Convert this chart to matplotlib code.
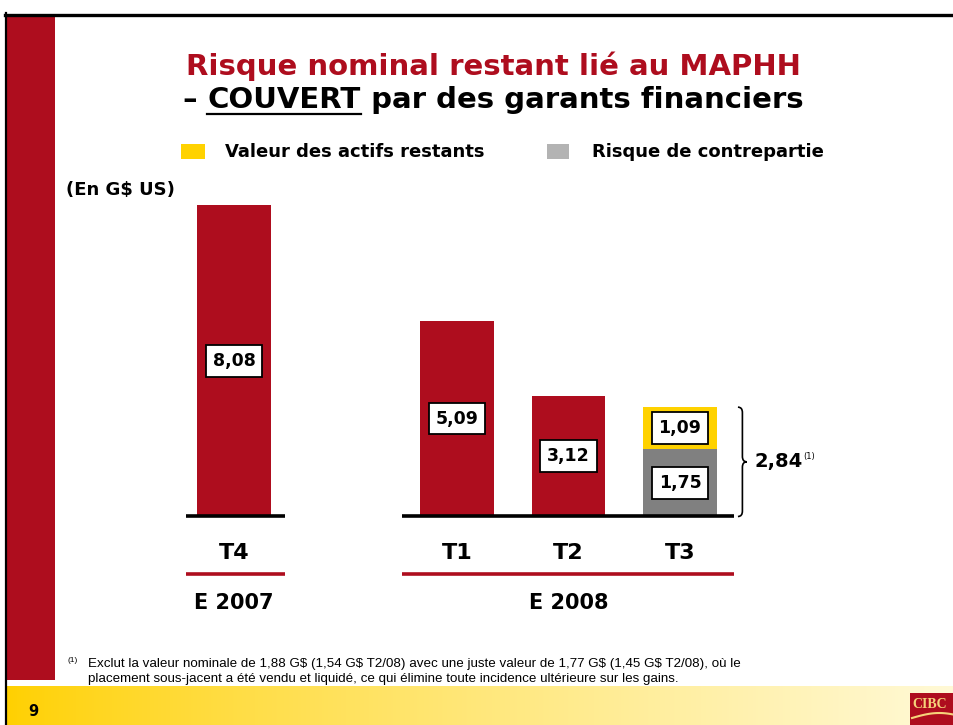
import numpy as np
import matplotlib
matplotlib.use('Agg')
from matplotlib import pyplot as plt
from matplotlib.patches import Rectangle, PathPatch
from matplotlib.path import Path
from matplotlib.lines import Line2D

# data (G$ US)
periods = ['T4', 'T1', 'T2', 'T3']
period_x = [0, 2, 3, 4]
years = ['E 2007', 'E 2008']
year_groups = [[0], [2, 3, 4]]
red_vals = [8.08, 5.09, 3.12]          # T4, T1, T2
t3_counterparty = 1.75                 # gris
t3_assets = 1.09                       # jaune
t3_total = 2.84
legend_labels = ['Valeur des actifs restants', 'Risque de contrepartie']

RED = '#AE0D1E'
YELLOW = '#FFD200'
GRAY = '#808080'
LGRAY = '#B3B3B3'


def fr(v):
    return ('%.2f' % v).replace('.', ',')


fig = plt.figure(figsize=(9.54, 7.25), dpi=100)

# background / slide decorations in pixel coords
bg = fig.add_axes([0, 0, 1, 1])
bg.axis('off')
c0 = np.array([255, 208, 0]) / 255.0
c1 = np.array([255, 249, 214]) / 255.0
t = np.linspace(0, 1, 400) ** 0.8
grad = c0[None, :] * (1 - t[:, None]) + c1[None, :] * t[:, None]
bg.imshow(grad[None, :, :], extent=(7, 954, 725, 686), aspect='auto')
bg.set_xlim(0, 954)
bg.set_ylim(725, 0)
bg.add_patch(Rectangle((7, 16), 48, 664, color=RED, lw=0))
bg.add_line(Line2D([5, 954], [14.5, 14.5], color='black', lw=2.4))
bg.add_line(Line2D([6, 6], [13, 725], color='black', lw=1.6))

# logo
bg.add_patch(Rectangle((910, 693), 44, 32, color=RED, lw=0))
bg.text(912, 704, 'CIBC', color='#F6D37A', fontsize=10, family='Liberation Serif',
        va='center', ha='left', fontweight='bold')
sw = np.linspace(912, 954, 30)
bg.plot(sw, 718 - 5 * np.sin((sw - 912) / 42 * np.pi / 1.3), color='#F6D37A', lw=1.5)

# title
TS = 21
bg.text(493, 66, 'Risque nominal restant lié au MAPHH', color=RED, fontsize=TS,
        fontweight='bold', ha='center', va='center')
pieces = ['–\u00a0', 'COUVERT', '\u00a0par des garants financiers']
renderer = fig.canvas.get_renderer()
tx = []
for p in pieces:
    tx.append(bg.text(0, 100, p, fontsize=TS, fontweight='bold', color='black',
                      ha='left', va='center'))
widths = [ti.get_window_extent(renderer).width for ti in tx]
total = sum(widths)
x = 493 - total / 2
for ti, w in zip(tx, widths):
    ti.set_x(x)
    x += w
und_x0 = 493 - total / 2 + widths[0]
bg.add_line(Line2D([und_x0, und_x0 + widths[1]], [114, 114], color='black', lw=1.6))

# legend
bg.add_patch(Rectangle((181, 144), 24, 15, color=YELLOW, lw=0))
bg.text(225, 152, legend_labels[0], fontsize=13, fontweight='bold', va='center')
bg.add_patch(Rectangle((547, 144), 22, 15, color=LGRAY, lw=0))
bg.text(592, 152, legend_labels[1], fontsize=13, fontweight='bold', va='center')
bg.text(66, 190, r'(En G\$ US)', fontsize=13, fontweight='bold', va='center')

# footnote
foot_font = ['Liberation Sans', 'DejaVu Sans']
bg.text(68, 661, '(1)', fontsize=6, family=foot_font, va='center')
bg.text(88, 664, r'Exclut la valeur nominale de 1,88 G\$ (1,54 G\$ T2/08) avec une juste valeur '
        r'de 1,77 G\$ (1,45 G\$ T2/08), où le', fontsize=9.6, family=foot_font, va='center')
bg.text(88, 679, 'placement sous-jacent a été vendu et liquidé, ce qui élimine toute incidence '
        'ultérieure sur les gains.', fontsize=9.6, family=foot_font, va='center')
bg.text(28, 712, '9', fontsize=10.5, fontweight='bold', va='center')

# chart
ax = fig.add_axes([150 / 954, 85 / 725, 700 / 954, 460 / 725])
ax.patch.set_alpha(0)
ax.set_xlim(-0.753, 5.525)
ax.set_ylim(-3.208, 8.74)
ax.axis('off')

W = 0.66
ax.bar(period_x[:3], red_vals, width=W, color=RED, lw=0)
ax.bar(period_x[3], t3_counterparty, width=W, color=GRAY, lw=0)
ax.bar(period_x[3], t3_assets, bottom=t3_counterparty, width=W, color=YELLOW, lw=0)

box = dict(boxstyle='square,pad=0.4', fc='white', ec='black', lw=1.3)
for xi, v in zip(period_x[:3], red_vals):
    ax.text(xi, v / 2, fr(v), ha='center', va='center', fontsize=12.5,
            fontweight='bold', bbox=box)
ax.text(period_x[3], t3_counterparty / 2, fr(t3_counterparty), ha='center', va='center',
        fontsize=12.5, fontweight='bold', bbox=box)
ax.text(period_x[3], t3_counterparty + t3_assets / 2, fr(t3_assets), ha='center',
        va='center', fontsize=12.5, fontweight='bold', bbox=box)

# baselines, period labels, red rules, year labels
for grp, yr in zip(year_groups, years):
    x0 = min(grp) - W / 2 - (0.1 if len(grp) == 1 else 0.16)
    x1 = max(grp) + W / 2 + (0.13 if len(grp) == 1 else 0.155)
    ax.plot([x0, x1], [0, 0], color='black', lw=2.6, solid_capstyle='butt')
    ax.plot([x0, x1], [-1.49, -1.49], color=RED, lw=2.6, solid_capstyle='butt')
    ax.text(np.mean(grp), -2.25, yr, ha='center', va='center', fontsize=15,
            fontweight='bold')
for xi, p in zip(period_x, periods):
    ax.text(xi, -0.95, p, ha='center', va='center', fontsize=16, fontweight='bold')

# brace for T3 total
bx = period_x[3] + W / 2 + 0.19
dx = 0.04
r = 0.14
mid = t3_total / 2
verts = [(bx, t3_total), (bx + dx, t3_total), (bx + dx, t3_total - r),
         (bx + dx, mid + r), (bx + dx, mid), (bx + 2 * dx, mid),
         (bx + dx, mid), (bx + dx, mid - r),
         (bx + dx, r), (bx + dx, 0), (bx, 0)]
codes = [Path.MOVETO, Path.CURVE3, Path.CURVE3,
         Path.LINETO, Path.CURVE3, Path.CURVE3,
         Path.CURVE3, Path.CURVE3,
         Path.LINETO, Path.CURVE3, Path.CURVE3]
ax.add_patch(PathPatch(Path(verts, codes), fc='none', ec='black', lw=1.2))
tt = ax.text(bx + 0.145, mid, fr(t3_total), ha='left', va='center', fontsize=14,
             fontweight='bold')
ax.annotate('(1)', xy=(1, 0.8), xycoords=tt, xytext=(1, 0), textcoords='offset points',
            fontsize=6, ha='left', va='center')

fig.savefig('out.png', dpi=100)
